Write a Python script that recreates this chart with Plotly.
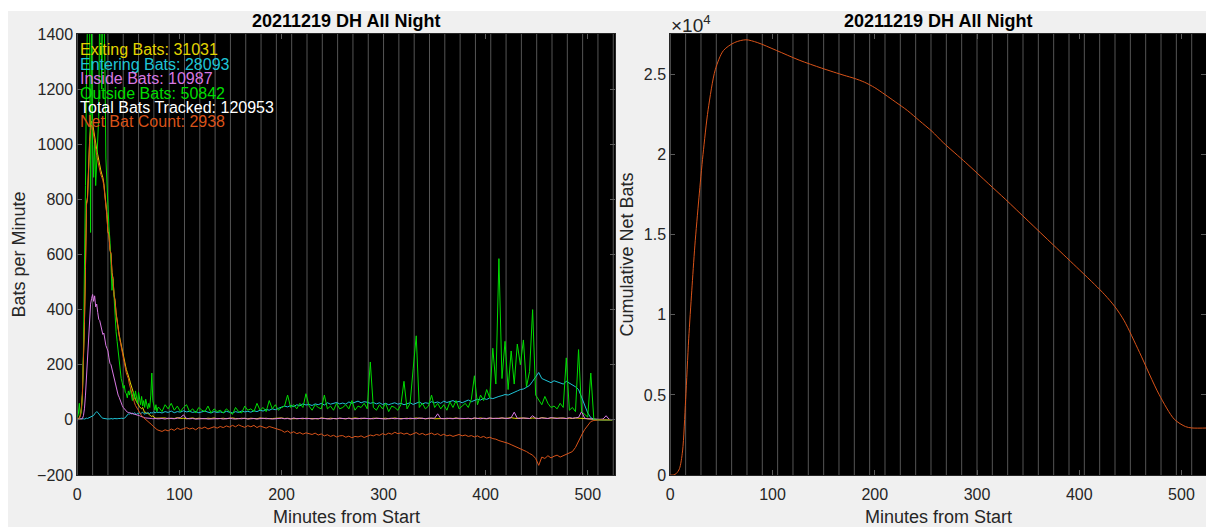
import plotly.graph_objects as go

# ---------------- data ----------------
title_text = "20211219 DH All Night"
x_title = "Minutes from Start"
y_title_left = "Bats per Minute"
y_title_right = "Cumulative Net Bats"

legend_labels = ["Exiting Bats", "Entering Bats", "Inside Bats", "Outside Bats",
                 "Total Bats Tracked", "Net Bat Count"]
legend_counts = [31031, 28093, 10987, 50842, 120953, 2938]
legend_colors = ["#E3D400", "#1FC4D6", "#D878E2", "#00DD00", "#FFFFFF", "#D95319"]

# sample minutes: every minute for the first 80, then every 3 minutes
minutes = list(range(0, 80)) + list(range(80, 527, 3))

exiting_early = [2, 5, 8, 18, 42, 95, 205, 355, 556, 786,
                 808, 930, 1010, 1062, 1084, 1075, 1048, 1020, 1002, 982,
                 962, 940, 922, 906, 892, 880, 858, 826, 776, 745,
                 684, 673, 618, 604, 534, 513, 454, 434, 388, 354,
                 335, 309, 290, 271, 251, 227, 208, 194, 183, 172,
                 163, 148, 134, 120, 106, 94, 84, 74, 66, 58,
                 53, 48, 43, 40, 45, 33, 26, 28, 23, 24,
                 19, 18, 14, 12, 15, 9, 7, 6, 6, 5]
exiting_late = [6, 5, 7, 4, 6, 5, 8, 5, 6, 4,
                5, 7, 4, 6, 5, 4, 6, 5, 7, 4,
                5, 6, 4, 5, 7, 5, 4, 6, 5, 4,
                6, 5, 4, 7, 5, 6, 4, 5, 6, 5,
                7, 5, 6, 4, 5, 6, 5, 4, 6, 5,
                5, 6, 4, 7, 5, 4, 6, 5, 4, 6,
                5, 4, 6, 5, 7, 5, 4, 6, 5, 4,
                6, 5, 4, 5, 6, 4, 5, 7, 5, 4,
                5, 6, 4, 5, 7, 5, 6, 4, 5, 6,
                4, 5, 6, 5, 4, 6, 5, 7, 4, 5,
                6, 5, 4, 6, 5, 7, 5, 4, 6, 5,
                5, 6, 7, 5, 6, 8, 6, 5, 7, 6,
                6, 5, 7, 6, 5, 8, 6, 5, 7, 6,
                5, 6, 7, 5, 6, 5, 7, 6, 5, 4,
                3, 2, 1, 1, 0, 0, 0, 0, 0]

entering_early = [2, 3, 2, 4, 3, 5, 4, 3, 5, 6,
                  5, 7, 6, 8, 10, 12, 16, 22, 28, 30,
                  27, 22, 16, 12, 8, 6, 5, 4, 5, 4,
                  3, 4, 3, 5, 4, 3, 5, 4, 3, 4,
                  5, 4, 5, 6, 4, 5, 6, 8, 12, 18,
                  22, 20, 24, 21, 25, 22, 26, 23, 20, 24,
                  22, 26, 23, 25, 28, 24, 20, 26, 23, 27,
                  25, 22, 28, 24, 26, 30, 25, 27, 29, 26]
entering_late = [28, 25, 30, 27, 32, 26, 30, 28, 33, 29,
                 31, 27, 30, 26, 29, 32, 28, 25, 30, 27,
                 29, 26, 31, 28, 25, 30, 27, 32, 29, 31,
                 28, 33, 30, 35, 32, 38, 35, 40, 37, 42,
                 45, 50, 47, 52, 48, 55, 51, 58, 54, 56,
                 52, 58, 55, 60, 54, 62, 57, 59, 63, 58,
                 61, 57, 65, 60, 63, 68, 62, 66, 64, 60,
                 63, 58, 62, 56, 60, 55, 59, 62, 57, 60,
                 55, 58, 62, 56, 60, 65, 58, 62, 60, 66,
                 62, 65, 60, 68, 63, 66, 70, 64, 67, 62,
                 68, 72, 66, 70, 75, 72, 78, 74, 80, 77,
                 82, 85, 88, 92, 90, 96, 100, 105, 110, 112,
                 118, 125, 140, 155, 172, 150, 145, 140, 135, 142,
                 138, 135, 130, 140, 133, 128, 120, 110, 80, 55,
                 25, 8, 2, 0, 0, 0, 0, 0, 0]

inside_early = [0, 1, 0, 2, 3, 5, 15, 40, 90, 160,
                250, 330, 390, 420, 440, 455, 430, 450, 410, 420,
                390, 365, 360, 340, 330, 310, 315, 290, 270, 260,
                250, 225, 205, 200, 185, 165, 150, 135, 115, 100,
                90, 82, 70, 60, 52, 45, 40, 34, 30, 28,
                27, 26, 25, 24, 23, 22, 22, 21, 20, 19,
                17, 15, 13, 11, 10, 9, 8, 7, 7, 6,
                5, 5, 6, 5, 4, 5, 4, 5, 4, 5]
inside_late = [4, 5, 3, 6, 5, 4, 6, 8, 18, 5,
               4, 5, 3, 4, 6, 5, 3, 4, 5, 4,
               5, 3, 4, 6, 4, 3, 5, 4, 6, 3,
               4, 5, 3, 4, 6, 4, 5, 3, 4, 5,
               6, 4, 5, 3, 7, 4, 5, 6, 4, 5,
               3, 5, 4, 6, 5, 4, 3, 5, 4, 6,
               5, 4, 6, 3, 5, 4, 6, 5, 4, 5,
               4, 6, 5, 4, 3, 5, 6, 4, 5, 3,
               5, 4, 6, 5, 4, 7, 5, 4, 6, 5,
               6, 22, 5, 4, 6, 5, 4, 6, 5, 4,
               5, 6, 4, 7, 5, 4, 6, 5, 7, 5,
               6, 5, 7, 6, 5, 8, 28, 6, 5, 7,
               6, 5, 15, 6, 5, 7, 6, 5, 8, 6,
               5, 7, 6, 5, 8, 6, 7, 9, 30, 6,
               4, 3, 2, 1, 2, 3, 15, 2, 1]

outside_early = [10, 20, 60, 15, 30, 90, 250, 500, 850, 1250,
                 1500, 1650, 1520, 680, 1480, 1000, 880, 1020, 850, 930,
                 980, 1100, 1550, 1480, 1200, 1600, 1500, 1300, 950, 820,
                 780, 700, 650, 560, 470, 510, 430, 360, 320, 285,
                 245, 205, 185, 150, 135, 115, 125, 100, 95, 80,
                 105, 90, 110, 95, 70, 100, 75, 105, 80, 60,
                 100, 70, 55, 85, 50, 70, 45, 75, 50, 40,
                 60, 45, 90, 170, 70, 45, 35, 55, 30, 45]
outside_late = [45, 30, 55, 40, 60, 35, 50, 30, 45, 55,
                30, 40, 25, 45, 35, 30, 50, 25, 40, 30,
                35, 25, 40, 30, 20, 45, 30, 25, 50, 35,
                40, 30, 60, 35, 45, 30, 70, 40, 55, 35,
                45, 50, 90, 45, 55, 40, 60, 45, 95, 50,
                35, 55, 45, 40, 90, 40, 50, 35, 60, 40,
                45, 55, 40, 70, 35, 50, 45, 60, 40, 210,
                45, 35, 55, 40, 60, 30, 50, 45, 35, 55,
                140, 40, 60, 185, 305, 45, 60, 40, 50, 90,
                45, 60, 40, 55, 35, 65, 45, 70, 40, 50,
                60, 45, 75, 160, 55, 90, 70, 110, 80, 260,
                130, 585, 150, 285, 110, 250, 130, 275, 200, 290,
                120, 175, 400, 90, 70, 55, 85, 60, 45, 50,
                40, 60, 45, 225, 35, 45, 30, 255, 30, 20,
                10, 170, 0, 0, 0, 0, 0, 0, 0]

net_early = [0, 2, 5, 15, 40, 90, 200, 350, 550, 780,
             800, 920, 1000, 1050, 1070, 1060, 1030, 1000, 980, 960,
             940, 920, 905, 890, 880, 870, 850, 820, 770, 740,
             680, 670, 615, 600, 530, 510, 450, 430, 385, 350,
             330, 305, 285, 265, 245, 220, 200, 185, 170, 160,
             150, 130, 115, 100, 85, 72, 62, 52, 45, 38,
             32, 26, 20, 15, 11, 8, 5, 2, 0, -3,
             -6, -10, -14, -18, -22, -26, -29, -33, -35, -37]
net_late = [-38, -42, -36, -40, -33, -38, -30, -35, -32, -28,
            -33, -30, -36, -28, -31, -26, -33, -29, -25, -30,
            -24, -28, -22, -26, -20, -25, -18, -23, -27, -21,
            -25, -20, -28, -22, -26, -30, -24, -27, -32, -35,
            -38, -45, -40, -48, -43, -50, -46, -52, -47, -50,
            -53, -48, -55, -51, -58, -54, -60, -56, -62, -58,
            -57, -63, -59, -65, -60, -62, -58, -64, -60, -55,
            -58, -53, -56, -50, -54, -48, -52, -45, -50, -47,
            -52, -48, -55, -50, -46, -53, -49, -55, -51, -48,
            -54, -50, -57, -52, -58, -55, -60, -56, -53, -58,
            -55, -60, -57, -62, -58, -64, -60, -66, -63, -68,
            -70, -75, -78, -82, -85, -90, -95, -100, -105, -108,
            -115, -122, -128, -140, -165, -135, -140, -130, -138, -132,
            -128, -135, -130, -125, -120, -115, -100, -75, -55, -35,
            -18, -6, -2, 0, 0, 0, 0, 0, 0]

exiting = exiting_early + exiting_late
entering = entering_early + entering_late
inside = inside_early + inside_late
outside = outside_early + outside_late
net = net_early + net_late
for s in (exiting, entering, inside, outside, net):
    assert len(s) == len(minutes), (len(s), len(minutes))

cum_minutes = [0, 3, 6, 9, 12, 15, 18, 21, 24, 28, 32, 37, 44, 52, 63, 74, 85,
               104, 126, 148, 170, 180, 190, 200, 210, 220, 232, 244, 256, 267,
               289, 311, 328, 350, 375, 400, 415, 425, 435, 444, 459, 478, 493,
               504, 510, 527]
cum_net = [0, 0, 100, 400, 1500, 4700, 8500, 11500, 14300, 17300, 20000, 22800,
           25300, 26500, 27000, 27170, 27000, 26500, 25900, 25400, 24950, 24760,
           24520, 24180, 23750, 23300, 22750, 22100, 21450, 20750, 19500, 18200,
           17200, 15860, 14340, 12820, 11900, 11250, 10500, 9625, 7650, 5040,
           3480, 3020, 2938, 2938]

# ---------------- layout geometry (screen pixels) ----------------
W, H = 1206, 527
FONT = "Liberation Sans, Arial, Helvetica, sans-serif"
TXT = "#262626"
L_X0, L_X1 = 77.3, 615.3
R_X0, R_X1 = 670.3, 1206.0
Y_TOP, Y_BOT = 34.0, 475.0


def pxx(p):
    return p / W


def pxy(p):
    return 1 - p / H


fig = go.Figure()

series = [("Exiting", exiting, legend_colors[0]),
          ("Entering", entering, legend_colors[1]),
          ("Inside", inside, legend_colors[2]),
          ("Outside", outside, legend_colors[3]),
          ("Net", net, legend_colors[5])]
for name, vals, col in series:
    fig.add_trace(go.Scatter(x=minutes, y=vals, mode="lines", name=name,
                             line=dict(color=col, width=1),
                             xaxis="x", yaxis="y", showlegend=False))

fig.add_trace(go.Scatter(x=cum_minutes, y=cum_net, mode="lines",
                         line=dict(color="#D95319", width=1, shape="spline", smoothing=0.8),
                         xaxis="x2", yaxis="y2", showlegend=False))

axis_common = dict(ticks="inside", ticklen=5, tickcolor="#5a5a5a",
                   showgrid=False, zeroline=False, showline=True, automargin=False,
                   linecolor="#262626", linewidth=1, mirror="ticks",
                   tickfont=dict(family=FONT, size=16, color=TXT))

fig.update_layout(
    width=W, height=H, autosize=False,
    margin=dict(l=0, r=0, t=0, b=0, pad=0, autoexpand=False),
    paper_bgcolor="#F0F0F0",
    plot_bgcolor="#000000",
    xaxis=dict(domain=[pxx(L_X0), pxx(L_X1)], range=[0, 527], ticklabelstandoff=5,
               tickvals=[0, 100, 200, 300, 400, 500], anchor="y", **axis_common),
    yaxis=dict(domain=[pxy(Y_BOT), pxy(Y_TOP)], range=[-200, 1400], ticklabelstandoff=0,
               tickvals=list(range(-200, 1401, 200)), anchor="x", **axis_common),
    xaxis2=dict(domain=[pxx(R_X0), pxx(R_X1)], range=[0, 524], ticklabelstandoff=5,
                tickvals=[0, 100, 200, 300, 400, 500], anchor="y2", **axis_common),
    yaxis2=dict(domain=[pxy(Y_BOT), pxy(Y_TOP)], range=[0, 27530], ticklabelstandoff=0,
                tickvals=[0, 5000, 10000, 15000, 20000, 25000],
                ticktext=["0", "0.5", "1", "1.5", "2", "2.5"],
                anchor="x2", **axis_common),
)

# vertical 15-minute reference lines
shapes = []
for xa, ya, xmax in (("x", "y domain", 527), ("x2", "y2 domain", 524)):
    for m in range(15, xmax + 1, 15):
        shapes.append(dict(type="line", xref=xa, yref=ya, x0=m, x1=m, y0=0, y1=1,
                           line=dict(color="#555555", width=1), layer="below"))
# white strips at top and left of the screenshot
shapes.append(dict(type="rect", xref="paper", yref="paper", x0=0, x1=1,
                   y0=pxy(11), y1=1, fillcolor="white", line=dict(width=0), layer="below"))
shapes.append(dict(type="rect", xref="paper", yref="paper", x0=0, x1=pxx(8),
                   y0=0, y1=1, fillcolor="white", line=dict(width=0), layer="below"))
fig.update_layout(shapes=shapes)

ann = []
for cx in ((L_X0 + L_X1) / 2, (R_X0 + R_X1) / 2):
    ann.append(dict(text="<b>" + title_text + "</b>", xref="paper", yref="paper",
                    x=pxx(cx), y=pxy(21), xanchor="center", yanchor="middle",
                    showarrow=False, font=dict(family=FONT, size=18, color="#000000")))
    ann.append(dict(text=x_title, xref="paper", yref="paper",
                    x=pxx(cx), y=pxy(517), xanchor="center", yanchor="middle",
                    showarrow=False, font=dict(family=FONT, size=18, color=TXT)))
ann.append(dict(text=y_title_left, xref="paper", yref="paper", x=pxx(18),
                y=pxy((Y_TOP + Y_BOT) / 2), xanchor="center", yanchor="middle",
                textangle=-90, showarrow=False, font=dict(family=FONT, size=18, color=TXT)))
ann.append(dict(text=y_title_right, xref="paper", yref="paper", x=pxx(626),
                y=pxy((Y_TOP + Y_BOT) / 2), xanchor="center", yanchor="middle",
                textangle=-90, showarrow=False, font=dict(family=FONT, size=18, color=TXT)))
ann.append(dict(text="\u00d710<sup>4</sup>", xref="paper", yref="paper", x=pxx(669),
                y=pxy(24), xanchor="left", yanchor="middle", showarrow=False,
                font=dict(family=FONT, size=19, color=TXT)))
line_y = [49.5, 64.0, 78.5, 93.0, 107.5, 122.0]
for lab, cnt, col, ly in zip(legend_labels, legend_counts, legend_colors, line_y):
    ann.append(dict(text=f"{lab}: {cnt}", xref="x", yref="paper", x=0, y=pxy(ly),
                    xanchor="left", yanchor="middle", showarrow=False, xshift=1,
                    font=dict(family=FONT, size=16, color=col)))
fig.update_layout(annotations=ann)

fig.write_html("out.html")
